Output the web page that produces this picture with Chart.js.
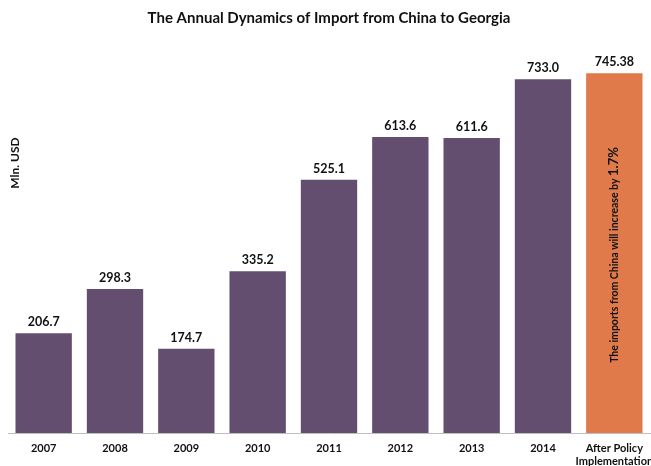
<!DOCTYPE html>
<html>
<head>
<meta charset="utf-8">
<script src="https://cdn.jsdelivr.net/npm/chart.js@4"></script>
<style>
  html, body { margin: 0; padding: 0; background: #fff; }
  #wrap { width: 651px; height: 466px; position: relative; }
</style>
</head>
<body>
<div id="wrap"><canvas id="importChart"></canvas></div>
<script>
// Import from China to Georgia, mln USD
const years = ['2007', '2008', '2009', '2010', '2011', '2012', '2013', '2014', ['After Policy', 'Implementation']];
const importValues = [206.7, 298.3, 174.7, 335.2, 525.1, 613.6, 611.6, 733.0, 745.38];
const valueLabels = ['206.7', '298.3', '174.7', '335.2', '525.1', '613.6', '611.6', '733.0', '745.38'];
const barColors = ['#634e70', '#634e70', '#634e70', '#634e70', '#634e70', '#634e70', '#634e70', '#634e70', '#e07a4a'];

const FONT = 'Lato, "Open Sans", sans-serif';

// values above bars + note inside the last bar + rotated unit label
const annotations = {
  id: 'annotations',
  afterDatasetsDraw(chart) {
    const ctx = chart.ctx;
    const meta = chart.getDatasetMeta(0);
    ctx.save();
    ctx.fillStyle = '#111';
    ctx.font = 'bold 12.5px ' + FONT;
    ctx.textAlign = 'center';
    ctx.textBaseline = 'alphabetic';
    meta.data.forEach((bar, i) => {
      ctx.fillText(valueLabels[i], bar.x, bar.y - 7);
    });

    // note in the policy bar
    const last = meta.data[meta.data.length - 1];
    const part1 = 'The imports from China will increase by ';
    const part2 = '1.7%';
    ctx.font = 'bold 10.5px ' + FONT;
    const w1 = ctx.measureText(part1).width;
    ctx.font = 'bold 13px ' + FONT;
    const w2 = ctx.measureText(part2).width;
    const cy = 255;
    ctx.translate(last.x + 4, cy + (w1 + w2) / 2);
    ctx.rotate(-Math.PI / 2);
    ctx.textAlign = 'left';
    ctx.font = 'bold 10.5px ' + FONT;
    ctx.fillText(part1, 0, 0);
    ctx.font = 'bold 13px ' + FONT;
    ctx.fillText(part2, w1, 0);
    ctx.restore();

    // unit label
    ctx.save();
    ctx.fillStyle = '#111';
    ctx.font = 'bold 12px ' + FONT;
    ctx.translate(15, 163);
    ctx.rotate(-Math.PI / 2);
    ctx.textAlign = 'center';
    ctx.textBaseline = 'middle';
    ctx.fillText('Mln. USD', 0, 0);
    ctx.restore();
  }
};

new Chart(document.getElementById('importChart'), {
  type: 'bar',
  data: {
    labels: years,
    datasets: [{
      data: importValues,
      backgroundColor: barColors,
      barPercentage: 0.79,
      categoryPercentage: 1
    }]
  },
  options: {
    responsive: true,
    maintainAspectRatio: false,
    animation: false,
    layout: { padding: { left: 8, right: 1, top: 0, bottom: 0 } },
    plugins: {
      legend: { display: false },
      tooltip: { enabled: false },
      title: {
        display: true,
        text: 'The Annual Dynamics of Import from China to Georgia',
        color: '#111',
        font: { family: FONT, size: 15, weight: 'bold' },
        padding: { top: 9, bottom: 20 }
      }
    },
    scales: {
      x: {
        grid: { display: false, drawTicks: false },
        border: { display: true, color: '#bfbfbf', width: 1 },
        ticks: {
          color: '#111',
          font: { family: FONT, size: 11, weight: 'bold', lineHeight: 1.2 },
          padding: 9,
          maxRotation: 0,
          autoSkip: false
        },
        // let the last label run past the edge instead of shrinking the plot
        afterFit(scale) {
          scale.paddingLeft = 0;
          scale.paddingRight = 0;
          scale.height = 33;
        }
      },
      y: {
        display: false,
        min: 0,
        max: 800
      }
    }
  },
  plugins: [annotations]
});
</script>
</body>
</html>
